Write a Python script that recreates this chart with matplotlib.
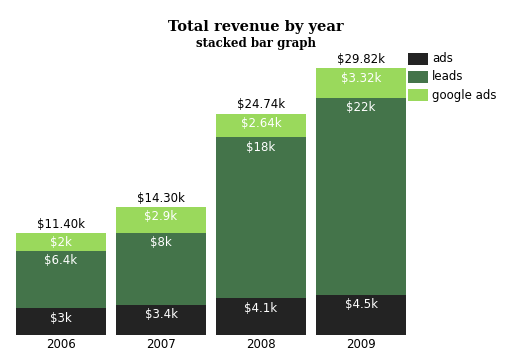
import matplotlib
matplotlib.use("Agg")
import matplotlib.pyplot as plt
from matplotlib.patches import Rectangle

years = ["2006", "2007", "2008", "2009"]
ads = [3, 3.4, 4.1, 4.5]
leads = [6.4, 8, 18, 22]
google_ads = [2, 2.9, 2.64, 3.32]
ads_labels = ["$3k", "$3.4k", "$4.1k", "$4.5k"]
leads_labels = ["$6.4k", "$8k", "$18k", "$22k"]
google_labels = ["$2k", "$2.9k", "$2.64k", "$3.32k"]
series_names = ["ads", "leads", "google ads"]
colors = ["#232323", "#44744a", "#9ad95c"]

W, H = 516, 364
fig = plt.figure(figsize=(W / 100, H / 100), dpi=100)
x0, x1 = 16, 406
ybot, ytop = 335, 40
ax = fig.add_axes([x0 / W, (H - ybot) / H, (x1 - x0) / W, (ybot - ytop) / H])
px_per_k = 8.95
ax.set_ylim(0, (ybot - ytop) / px_per_k)
ax.set_xlim(-0.45, 3.45)
ax.axis("off")

xs = list(range(len(years)))
series = [ads, leads, google_ads]
labels = [ads_labels, leads_labels, google_labels]
bottoms = [0.0] * len(years)
font = "DejaVu Sans"
for vals, labs, col in zip(series, labels, colors):
    ax.bar(xs, vals, width=0.9, bottom=bottoms, color=col, linewidth=0)
    for i, (v, lab) in enumerate(zip(vals, labs)):
        top = bottoms[i] + v
        ax.annotate(lab, (xs[i], top), xytext=(0, -2.5), textcoords="offset points",
                    ha="center", va="top", color="white", fontsize=8.5, family=font)
    bottoms = [b + v for b, v in zip(bottoms, vals)]

for i, tot in enumerate(bottoms):
    ax.annotate(f"${tot:.2f}k", (xs[i], tot), xytext=(0, 1.5), textcoords="offset points",
                ha="center", va="bottom", color="black", fontsize=8.5, family=font)
    ax.annotate(years[i], (xs[i], 0), xytext=(0, -2.5), textcoords="offset points",
                ha="center", va="top", color="black", fontsize=8.5, family=font)

fig.text(256 / W, 1 - 27 / H, "Total revenue by year", ha="center", va="center",
         fontsize=10.5, fontweight="bold", family="DejaVu Serif")
fig.text(256 / W, 1 - 43 / H, "stacked bar graph", ha="center", va="center",
         fontsize=8.5, fontweight="bold", family="DejaVu Serif")

for j, (name, col) in enumerate(zip(series_names, colors)):
    y = 53 + j * 18
    fig.patches.append(Rectangle((408 / W, 1 - (y + 12) / H), 20 / W, 12 / H,
                                 transform=fig.transFigure, facecolor=col, edgecolor="none"))
    fig.text(432 / W, 1 - (y + 6) / H, name, ha="left", va="center",
             fontsize=8.5, family=font, color="black")

fig.savefig("out.png", dpi=100)
